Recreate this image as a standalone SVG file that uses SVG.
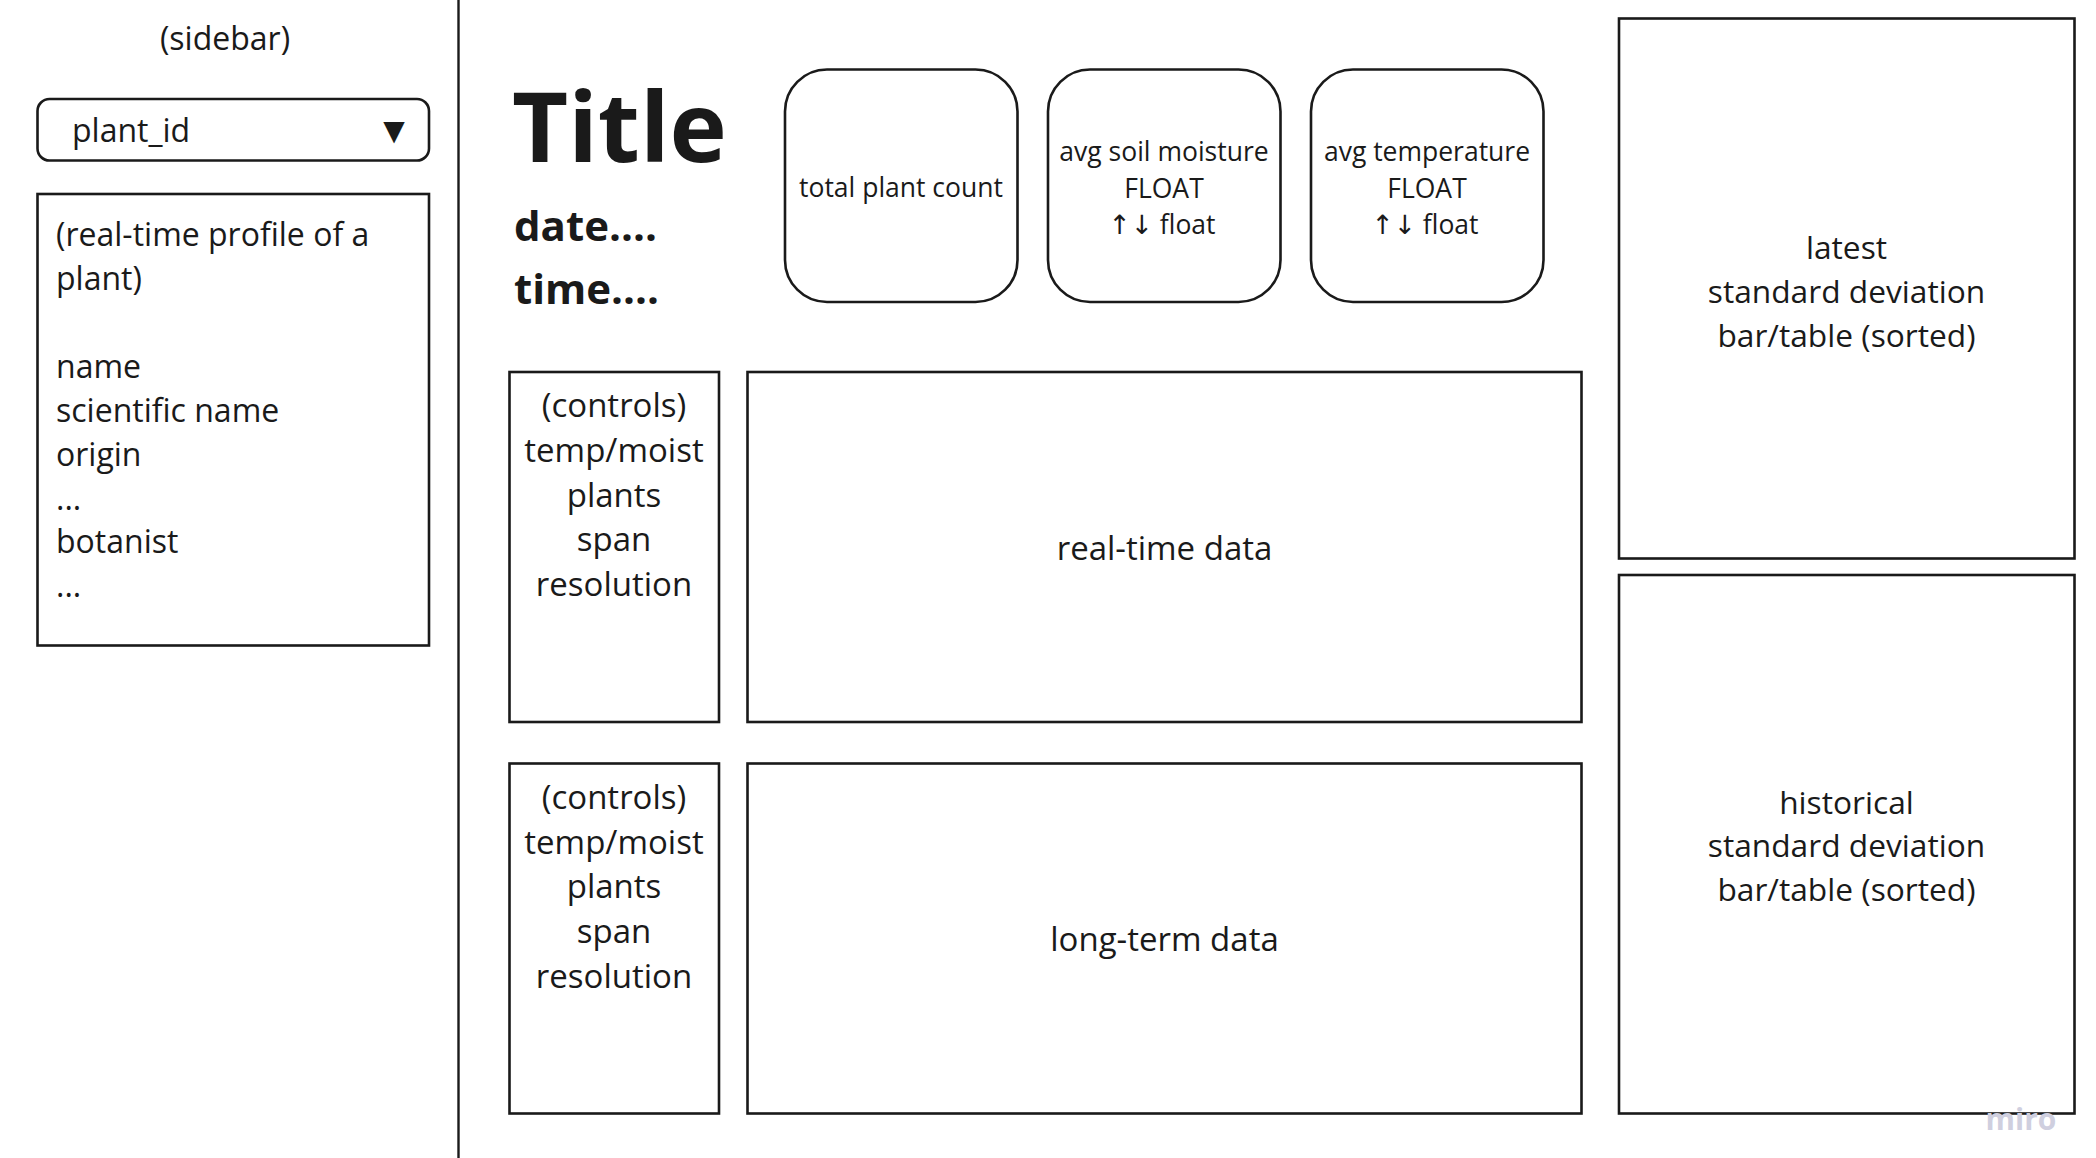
<svg xmlns="http://www.w3.org/2000/svg" width="2096" height="1158" viewBox="0 0 2096 1158">
<style>
.box{fill:#fff;stroke:#1a1a1a;stroke-width:2.6}
.t{font-family:"Open Sans","Noto Sans",sans-serif;fill:#1a1a1a}
.s32{font-size:32px}
.s33{font-size:33px}
.s26{font-size:26.5px}
.c{text-anchor:middle}
.b{font-weight:bold}
.ar{font-family:"DejaVu Sans",sans-serif}
</style>
<rect width="2096" height="1158" fill="#fff"/>
<g id="connectors"></g>
<g id="divider"><line x1="458.5" y1="0" x2="458.5" y2="1158" stroke="#1a1a1a" stroke-width="2.4"/></g>
<g id="sidebar-label"><text class="t s32 c" x="225" y="49.5">(sidebar)</text></g>
<g id="dropdown">
<rect class="box" x="37.5" y="99" width="391.5" height="61.5" rx="12"/>
<text class="t s32" x="72" y="141.5">plant_id</text>
<text x="394" y="140" font-family="DejaVu Sans,sans-serif" font-size="28" text-anchor="middle" fill="#1a1a1a">▼</text>
</g>
<g id="profile">
<rect class="box" x="37.5" y="194" width="391.5" height="451.5"/>
<text class="t s32" x="56" y="245.5">(real-time profile of a</text>
<text class="t s32" x="56" y="289.5">plant)</text>
<text class="t s32" x="56" y="377.5">name</text>
<text class="t s32" x="56" y="421.5">scientific name</text>
<text class="t s32" x="56" y="465.5">origin</text>
<text class="t s32" x="56" y="509.5">...</text>
<text class="t s32" x="56" y="552.5">botanist</text>
<text class="t s32" x="56" y="596.5">...</text>
</g>
<g id="title">
<text class="t b" x="512" y="162" font-size="97">Title</text>
<text class="t b" x="514" y="241" font-size="42">date....</text>
<text class="t b" x="514" y="303.5" font-size="42">time....</text>
</g>
<g id="card-count">
<rect class="box" x="785" y="69.5" width="232.5" height="232.5" rx="42"/>
<text class="t s26 c" x="901" y="196.5">total plant count</text>
</g>
<g id="card-moisture">
<rect class="box" x="1048" y="69.5" width="232.5" height="232.5" rx="42"/>
<text class="t s26 c" x="1164" y="160.5">avg soil moisture</text>
<text class="t s26 c" x="1164" y="197.5">FLOAT</text>
<text class="t s26 c" x="1162" y="233.5"><tspan class="ar">↑↓</tspan> float</text>
</g>
<g id="card-temperature">
<rect class="box" x="1311" y="69.5" width="232.5" height="232.5" rx="42"/>
<text class="t s26 c" x="1427" y="160.5">avg temperature</text>
<text class="t s26 c" x="1427" y="197.5">FLOAT</text>
<text class="t s26 c" x="1425" y="233.5"><tspan class="ar">↑↓</tspan> float</text>
</g>
<g id="controls-realtime">
<rect class="box" x="509.5" y="372" width="209.5" height="350"/>
<text class="t s33 c" x="614" y="416.5">(controls)</text>
<text class="t s33 c" x="614" y="461.5">temp/moist</text>
<text class="t s33 c" x="614" y="506.5">plants</text>
<text class="t s33 c" x="614" y="550.5">span</text>
<text class="t s33 c" x="614" y="595.5">resolution</text>
</g>
<g id="realtime-data">
<rect class="box" x="747.5" y="372" width="834" height="350"/>
<text class="t s33 c" x="1164.5" y="559.5">real-time data</text>
</g>
<g id="controls-longterm">
<rect class="box" x="509.5" y="763.5" width="209.5" height="350"/>
<text class="t s33 c" x="614" y="808.5">(controls)</text>
<text class="t s33 c" x="614" y="853.5">temp/moist</text>
<text class="t s33 c" x="614" y="897.5">plants</text>
<text class="t s33 c" x="614" y="942.5">span</text>
<text class="t s33 c" x="614" y="987.5">resolution</text>
</g>
<g id="longterm-data">
<rect class="box" x="747.5" y="763.5" width="834" height="350"/>
<text class="t s33 c" x="1164.5" y="950.5">long-term data</text>
</g>
<g id="latest-std">
<rect class="box" x="1619" y="18.5" width="455.5" height="540"/>
<text class="t c" font-size="31.7" x="1846.5" y="258.5">latest</text>
<text class="t c" font-size="31.7" x="1846.5" y="302.5">standard deviation</text>
<text class="t c" font-size="31.7" x="1846.5" y="347">bar/table (sorted)</text>
</g>
<g id="historical-std">
<rect class="box" x="1619" y="575" width="455.5" height="538.5"/>
<text class="t c" font-size="31.7" x="1846.5" y="813.5">historical</text>
<text class="t c" font-size="31.7" x="1846.5" y="857">standard deviation</text>
<text class="t c" font-size="31.7" x="1846.5" y="901">bar/table (sorted)</text>
</g>
<g id="watermark"><text class="t b" x="2021" y="1130" font-size="30" text-anchor="middle" style="fill:#cfcfdf">miro</text></g>
</svg>
